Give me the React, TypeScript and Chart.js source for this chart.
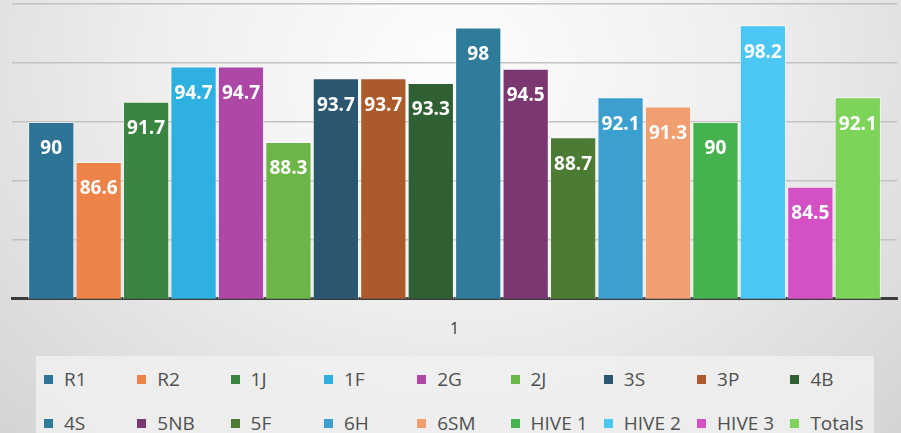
import React, { useEffect, useRef } from "react";
import { Chart, registerables } from "chart.js";

Chart.register(...registerables);

const categories = ["1"];
const seriesNames = ["R1", "R2", "1J", "1F", "2G", "2J", "3S", "3P", "4B", "4S", "5NB", "5F", "6H", "6SM", "HIVE 1", "HIVE 2", "HIVE 3", "Totals"];
const seriesValues = [90, 86.6, 91.7, 94.7, 94.7, 88.3, 93.7, 93.7, 93.3, 98, 94.5, 88.7, 92.1, 91.3, 90, 98.2, 84.5, 92.1];
const seriesColors = ["#2E7496", "#EE834A", "#3A8541", "#2EB0E0", "#AE48A6", "#6CB649", "#2B5670", "#AC5A2C", "#2F5F33", "#2E7C9A", "#7B376F", "#4C7C34", "#3BA0D0", "#F19E70", "#45B14F", "#4CC7F4", "#D451C5", "#7ED35B"];
const yMin = 75;
const yMax = 100;
const yStep = 5;

const FONT = "'Open Sans', 'DejaVu Sans', sans-serif";

const labelPlugin = {
  id: "barLabels",
  afterDatasetsDraw(chart: any) {
    const ctx = chart.ctx;
    ctx.save();
    ctx.fillStyle = "#ffffff";
    ctx.font = "bold 19px " + FONT;
    ctx.textAlign = "center";
    ctx.textBaseline = "middle";
    chart.data.datasets.forEach((ds: any, i: number) => {
      const meta = chart.getDatasetMeta(i);
      meta.data.forEach((bar: any, j: number) => {
        const v = ds.data[j];
        ctx.fillText(String(v), bar.x, bar.y + 27);
      });
    });
    ctx.restore();
  },
};

export default function App() {
  const ref = useRef<HTMLCanvasElement | null>(null);
  useEffect(() => {
    document.body.style.margin = "0";
    const chart = new Chart(ref.current as HTMLCanvasElement, {
      type: "bar",
      data: {
        labels: categories,
        datasets: seriesNames.map((name, i) => ({
          label: name,
          data: [seriesValues[i]],
          backgroundColor: seriesColors[i],
          borderColor: "rgba(255,255,255,0.55)",
          borderWidth: 1,
          categoryPercentage: 0.965,
          barPercentage: 0.975,
        })),
      },
      options: {
        animation: false,
        responsive: false,
        maintainAspectRatio: false,
        layout: { padding: { left: 12, right: 4, top: 4, bottom: 4 } },
        plugins: { legend: { display: false }, tooltip: { enabled: false } },
        scales: {
          x: {
            grid: { display: false },
            border: { display: true, color: "#3c3c3c", width: 3 },
            ticks: { color: "#333", font: { family: FONT, size: 16 }, padding: 13 },
          },
          y: {
            min: yMin,
            max: yMax,
            ticks: { display: false, stepSize: yStep },
            grid: { color: "#c2c2c2", lineWidth: 1.5, drawTicks: false },
            border: { display: false },
          },
        },
      },
      plugins: [labelPlugin],
    });
    return () => chart.destroy();
  }, []);

  return (
    <div
      style={{
        position: "relative",
        width: 901,
        height: 433,
        overflow: "hidden",
        background: "radial-gradient(ellipse at 50% 15%, #fdfdfd 0%, #efefef 45%, #d4d4d4 100%)",
        fontFamily: FONT,
      }}
    >
      <canvas ref={ref} width={901} height={356} style={{ position: "absolute", left: 0, top: 0 }} />
      <div
        style={{
          position: "absolute",
          left: 36,
          top: 356,
          width: 838,
          height: 90,
          background: "rgba(240,240,240,0.85)",
        }}
      >
        {seriesNames.map((name, i) => {
          const row = Math.floor(i / 9);
          const col = i % 9;
          return (
            <div
              key={name}
              style={{
                position: "absolute",
                left: 8 + col * 93.3,
                top: 23 + row * 44 - 12,
                height: 24,
                display: "flex",
                alignItems: "center",
                whiteSpace: "nowrap",
                color: "#505050",
                fontSize: 19,
              }}
            >
              <span style={{ display: "inline-block", width: 9, height: 9, background: seriesColors[i], marginRight: 11 }} />
              <span>{name}</span>
            </div>
          );
        })}
      </div>
    </div>
  );
}
